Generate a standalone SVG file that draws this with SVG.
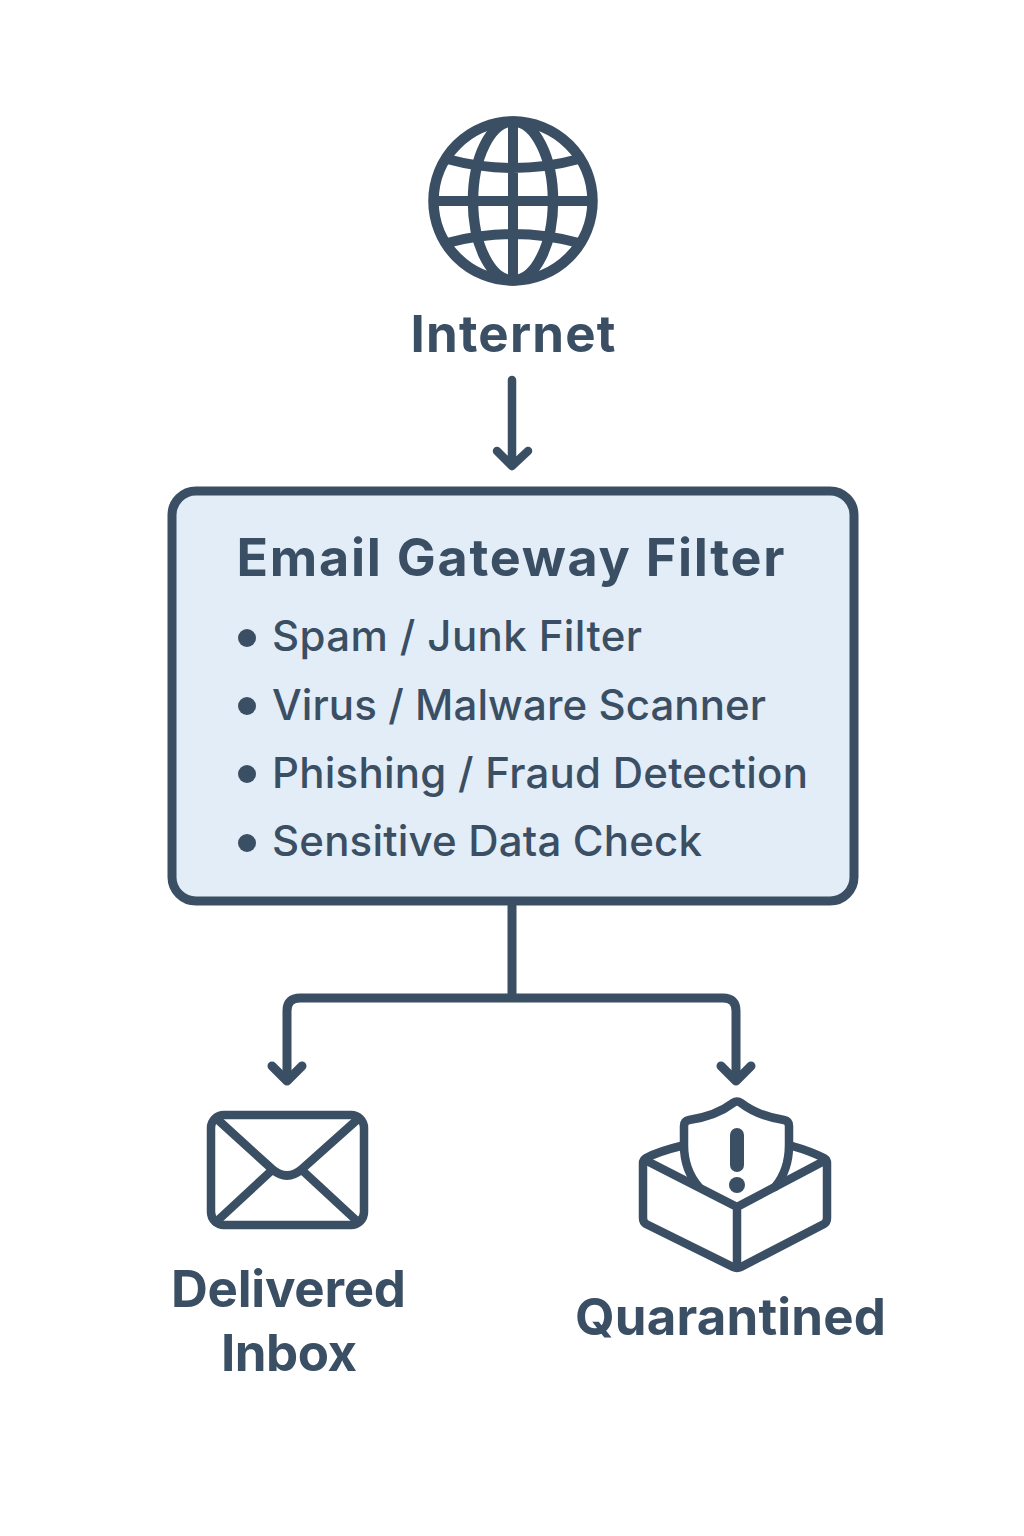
<svg xmlns="http://www.w3.org/2000/svg" width="1024" height="1536" viewBox="0 0 1024 1536">
<style>
.s{fill:none;stroke:#3b4f64;stroke-linecap:round;stroke-linejoin:round}
.t{font-family:Inter,"Liberation Sans",sans-serif;fill:#3b4f64;text-anchor:middle;font-weight:700}
.l{font-family:Inter,"Liberation Sans",sans-serif;fill:#3b4f64;font-size:42px;font-weight:500}
.b{fill:#3b4f64}
</style>
<rect width="1024" height="1536" fill="#fff"/>
<g id="connectors">
<path class="s" stroke-width="8.500" d="M512 380V465M497 451L512 466L528 451"/>
<path class="s" stroke-width="9" d="M512 906V998M287 1079V1011Q287 998 300 998H723Q736 998 736 1011V1079"/>
<path class="s" stroke-width="9" d="M272 1066L287 1081L302 1066M721 1066L736 1081L751 1066"/>
</g>
<g id="internet">
<g class="s" stroke-width="10.500">
<circle cx="513" cy="201" r="79.500"/>
<ellipse cx="513" cy="201" rx="40" ry="79.500"/>
<path d="M513 122V280M434 201H592M447 159Q513 177 579 159M447 243Q513 225 579 243" stroke-width="10"/>
</g>
<text class="t" x="513" y="352" font-size="51" textLength="205" lengthAdjust="spacing">Internet</text>
</g>
<g id="gateway">
<rect x="172" y="491" width="682" height="410" rx="24" fill="#e3edf7" stroke="#3b4f64" stroke-width="9"/>
<text class="t" x="510.500" y="576" font-size="52" textLength="548" lengthAdjust="spacing">Email Gateway Filter</text>
<circle class="b" cx="247" cy="638" r="9"/><text class="l" x="272" y="651" textLength="370" lengthAdjust="spacing">Spam / Junk Filter</text>
<circle class="b" cx="247" cy="706" r="9"/><text class="l" x="272" y="720" textLength="494" lengthAdjust="spacing">Virus / Malware Scanner</text>
<circle class="b" cx="247" cy="774" r="9"/><text class="l" x="272" y="788" textLength="536" lengthAdjust="spacing">Phishing / Fraud Detection</text>
<circle class="b" cx="247" cy="843" r="9"/><text class="l" x="272" y="856" textLength="430" lengthAdjust="spacing">Sensitive Data Check</text>
</g>
<g id="delivered">
<g class="s" stroke-width="8.500">
<rect x="211" y="1115" width="153" height="110" rx="13"/>
<path d="M217 1119L272 1169Q287 1182 302 1169L358 1119M216 1222L270 1172M358 1222L304 1172"/>
</g>
<text class="t" x="288.500" y="1307" font-size="51" textLength="235" lengthAdjust="spacing">Delivered</text>
<text class="t" x="289" y="1371" font-size="51" textLength="136" lengthAdjust="spacing">Inbox</text>
</g>
<g id="quarantined">
<g class="s" stroke-width="8.500">
<path d="M681 1146Q660 1151 646 1158Q643 1160 643 1163V1218Q643 1222 646 1224L733 1267Q737 1269 741 1267L824 1224Q827 1222 827 1218V1163Q827 1160 824 1158Q810 1151 792 1146"/>
<path d="M645 1160L737 1207L826 1160M737 1207V1266"/>
<path d="M699 1187Q684 1170 684 1145V1126Q684 1121 689 1120Q716 1116 733 1103Q737 1100 741 1103Q758 1116 784 1120Q789 1121 789 1126V1145Q789 1170 775 1187"/>
</g>
<rect class="b" x="730" y="1128" width="14" height="44" rx="7"/>
<circle class="b" cx="737" cy="1185" r="8"/>
<text class="t" x="730.500" y="1335" font-size="51" textLength="311" lengthAdjust="spacing">Quarantined</text>
</g>
</svg>
